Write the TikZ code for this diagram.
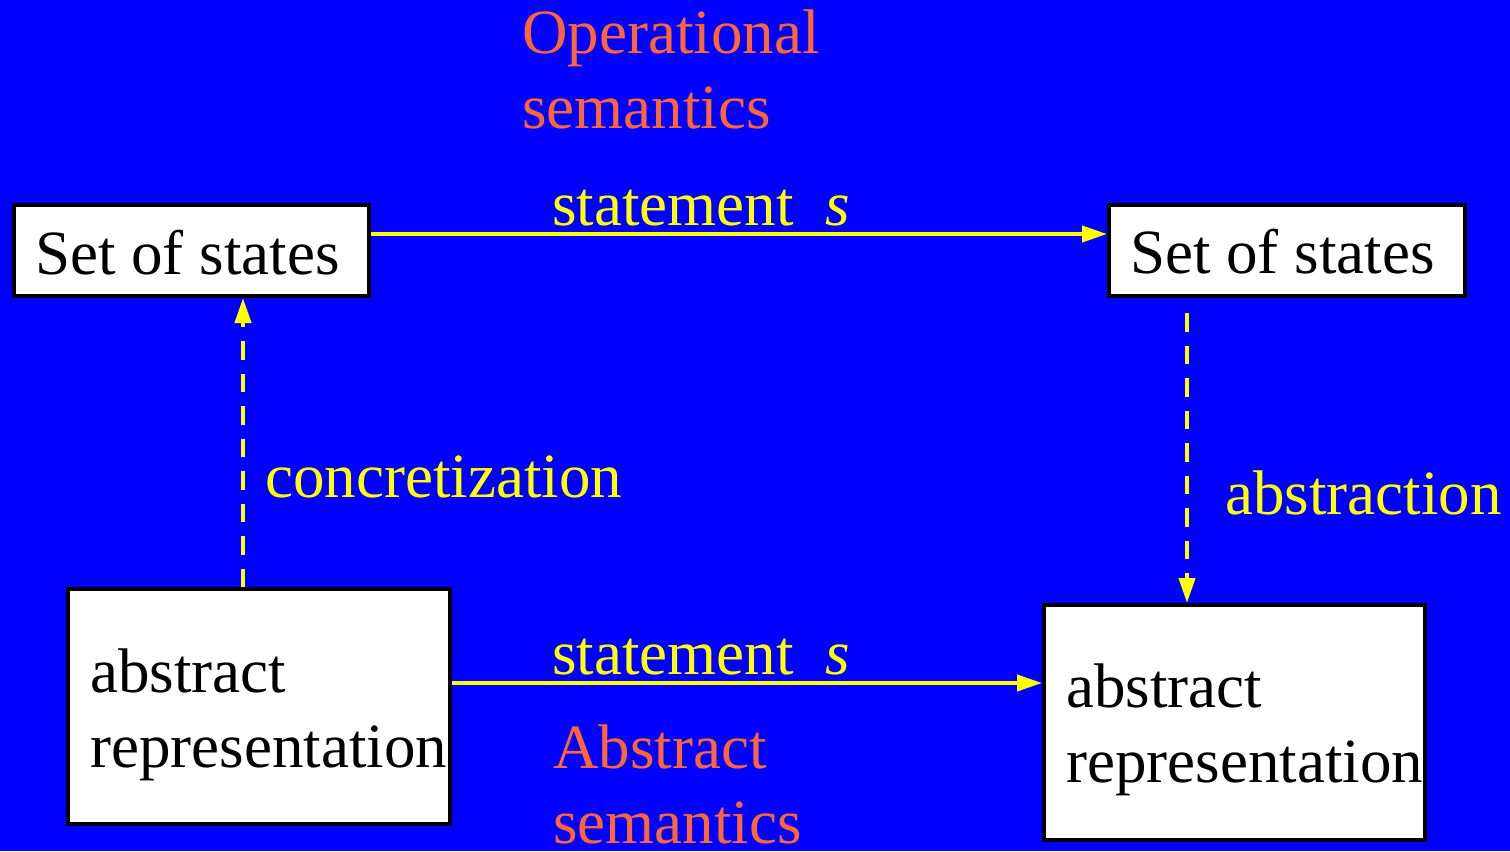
\documentclass[tikz,border=0pt]{standalone}
\usepackage{fontspec}
\setmainfont{Liberation Serif}
\usetikzlibrary{arrows.meta}
\definecolor{bgblue}{RGB}{0,0,255}
\definecolor{arrowyellow}{RGB}{255,255,0}
\definecolor{semorange}{RGB}{255,102,51}
\tikzset{
  statebox/.style={draw=black, fill=white, line width=4bp, inner sep=0pt},
  boxtext/.style={anchor=base west, inner sep=0pt, align=left, text=black},
  edgelabel/.style={anchor=base west, inner sep=0pt, align=left, text=arrowyellow},
  semlabel/.style={anchor=base west, inner sep=0pt, align=left, text=semorange},
  flow/.style={draw=arrowyellow, line width=4bp, -{Triangle[length=25bp,width=16bp]}},
  mapping/.style={flow, dash pattern=on 18.5bp off 14bp},
}
\begin{document}
\begin{tikzpicture}[x=1bp, y=-1bp, font=\fontsize{63bp}{75bp}\selectfont]
  % canvas
  \fill[bgblue] (0,0) rectangle (1510,851);
  \useasboundingbox (0,0) rectangle (1510,851);

  % boxes
  \node[statebox, minimum width=355bp, minimum height=91bp] (setL) at (191.5,250.5) {};
  \node[statebox, minimum width=356bp, minimum height=91bp] (setR) at (1287,250.5) {};
  \node[statebox, minimum width=381bp, minimum height=235bp] (absL) at (259,706.5) {};
  \node[statebox, minimum width=381bp, minimum height=235bp] (absR) at (1234.5,722.5) {};

  % box contents (multi-line nodes are placed by their last baseline)
  \node[boxtext] (setLtext) at (35,274) {Set of states};
  \node[boxtext] (setRtext) at (1130,273) {Set of states};
  \node[boxtext] (absLtext) at (90,767) {abstract\\representation};
  \node[boxtext] (absRtext) at (1066,782) {abstract\\representation};

  % helper coordinates for the connector lines
  \coordinate (topY) at (0,234);
  \coordinate (botY) at (0,683);
  \coordinate (leftX) at (243,0);
  \coordinate (rightStart) at (1187,313);

  % connectors
  \draw[flow] (setL.east |- topY) -- (setR.west |- topY);
  \draw[flow] (absL.east |- botY) -- (absR.west |- botY);
  \draw[mapping] (leftX |- absL.north) -- (leftX |- setL.south);
  \draw[mapping] (rightStart) -- (rightStart |- absR.north);

  % labels
  \node[semlabel] (opsem) at (522,128) {Operational\\semantics};
  \node[edgelabel] (stmtTop) at (552,225) {statement\ \ \textit{s}};
  \node[edgelabel] (stmtBot) at (552,674) {statement\ \ \textit{s}};
  \node[semlabel] (abssem) at (553,843) {Abstract\\semantics};
  \node[edgelabel] (conc) at (265,497) {concretization};
  \node[edgelabel] (abstr) at (1225,514) {abstraction};
\end{tikzpicture}
\end{document}
